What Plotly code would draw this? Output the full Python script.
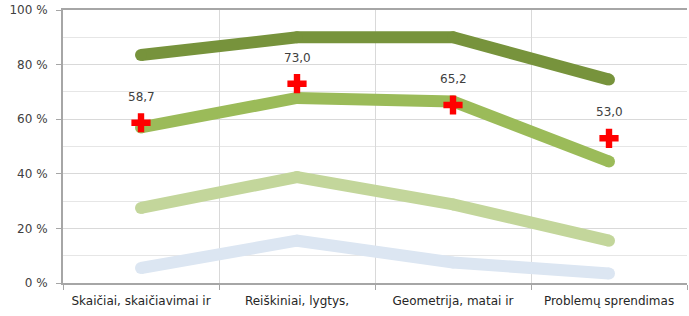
import plotly.graph_objects as go

categories = ["Skaičiai, skaičiavimai ir", "Reiškiniai, lygtys,", "Geometrija, matai ir", "Problemų sprendimas"]
series_top = [83.5, 90.0, 90.0, 74.5]
series_mid = [57.0, 67.8, 66.5, 44.5]
series_low = [27.5, 38.8, 28.8, 15.5]
series_bottom = [5.5, 15.5, 7.5, 3.5]
results = [58.7, 73.0, 65.2, 53.0]
result_labels = ["58,7", "73,0", "65,2", "53,0"]
y_ticks = [0, 20, 40, 60, 80, 100]
y_tick_labels = ["0 %", "20 %", "40 %", "60 %", "80 %", "100 %"]

FONT = "DejaVu Sans"

fig = go.Figure()
for vals, col in [(series_bottom, "#DCE6F2"), (series_low, "#C3D69B"),
                  (series_mid, "#9BBB59"), (series_top, "#77933C")]:
    fig.add_trace(go.Scatter(x=categories, y=vals, mode="lines+markers",
                             line=dict(color=col, width=12),
                             marker=dict(symbol="circle", size=12, color=col,
                                         line=dict(width=0)),
                             hoverinfo="skip"))

fig.add_trace(go.Scatter(x=categories, y=results, mode="markers",
                         marker=dict(symbol="cross", size=16, color="#FF0000",
                                     line=dict(width=0))))
for c, v, t in zip(categories, results, result_labels):
    fig.add_annotation(x=c, y=v, text=t, showarrow=False, yshift=26,
                       font=dict(family=FONT, size=12, color="#404040"))

fig.update_layout(
    width=689, height=316,
    margin=dict(l=63, r=2, t=10, b=33),
    plot_bgcolor="white", paper_bgcolor="white",
    showlegend=False,
    font=dict(family=FONT, size=12, color="#404040"),
)
fig.update_xaxes(type="category", range=[-0.5, 3.5], tickson="boundaries",
                 automargin=False, mirror=True,
                 showgrid=True, gridcolor="#D9D9D9", gridwidth=1,
                 showline=True, linecolor="#A6A6A6", linewidth=2,
                 ticks="outside", ticklen=5, tickcolor="#A6A6A6",
                 ticklabelstandoff=6,
                 tickfont=dict(family=FONT, size=12, color="#262626"))
fig.update_yaxes(range=[0, 100], tickvals=y_ticks, ticktext=y_tick_labels,
                 automargin=False,
                 showgrid=True, gridcolor="#D9D9D9", gridwidth=1,
                 minor=dict(dtick=10, showgrid=True, gridcolor="#E6E6E6"),
                 showline=True, linecolor="#A6A6A6", linewidth=2,
                 ticks="outside", ticklen=5, tickcolor="#A6A6A6",
                 ticklabelstandoff=6,
                 zeroline=False,
                 tickfont=dict(family=FONT, size=12, color="#404040"))

fig.write_html("out.html", config={"displayModeBar": False},
               post_script="document.body.style.margin='0';")
